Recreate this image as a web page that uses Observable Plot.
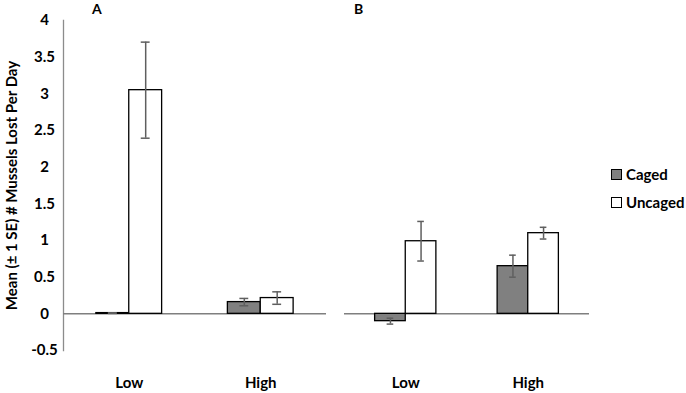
<!DOCTYPE html>
<html><head><meta charset="utf-8">
<script src="https://cdn.jsdelivr.net/npm/d3@7"></script>
<script src="https://cdn.jsdelivr.net/npm/@observablehq/plot@0.6"></script>
<style>
body{margin:0;background:#fff;font-family:Lato,"Open Sans",sans-serif;}
#wrap{position:relative;width:686px;height:393px;}
#wrap svg{position:absolute;top:0;font-family:Lato,"Open Sans",sans-serif;}
.plabel{position:absolute;top:0px;font-weight:bold;font-size:14px;color:#000;}
#legend{position:absolute;left:611px;top:160px;font-size:15px;font-weight:bold;line-height:28px;}
#legend .sw{display:inline-block;width:9px;height:9px;border:1.3px solid #000;margin-right:4px;vertical-align:0px;}
</style></head><body>
<div id="wrap"></div>
<script>
const groups = ["Low", "High"];
const treatments = ["Caged", "Uncaged"];
const yTicks = [-0.5, 0, 0.5, 1, 1.5, 2, 2.5, 3, 3.5, 4];
// order: Low-Caged, Low-Uncaged, High-Caged, High-Uncaged
const aMean = [0.01, 3.05, 0.16, 0.215];
const aSE   = [0.004, 0.655, 0.05, 0.085];
const bMean = [-0.10, 0.99, 0.65, 1.10];
const bSE   = [0.04, 0.27, 0.15, 0.08];
const fills = {Caged: "#808080", Uncaged: "#ffffff"};

// each group occupies 4 slots: gap, Caged, Uncaged, gap
function rows(means, ses) {
  return means.map((m, i) => {
    const gi = Math.floor(i / 2), ti = i % 2;
    const slot = gi * 4 + 1 + ti;
    return {group: groups[gi], treatment: treatments[ti],
      x1: slot, x2: slot + 1, xc: slot + 0.5,
      mean: m, lo: m - ses[i], hi: m + ses[i]};
  });
}
const groupTicks = groups.map((g, gi) => gi * 4 + 2);

function panel(data, {width, marginLeft, marginRight, showY}) {
  const marks = [
    Plot.ruleY([0], {stroke: "#7f7f7f", strokeWidth: 1.5}),
    Plot.rectY(data, {x1: "x1", x2: "x2", y: "mean",
      fill: d => fills[d.treatment], stroke: "#000", strokeWidth: 1.3}),
    Plot.ruleX(data, {x: "xc", y1: "lo", y2: "hi", stroke: "#5f5f5f", strokeWidth: 1.5}),
    Plot.ruleY(data, {x1: "x1", x2: "x2", y: "lo", stroke: "#5f5f5f", strokeWidth: 1.5, insetLeft: 12, insetRight: 12}),
    Plot.ruleY(data, {x1: "x1", x2: "x2", y: "hi", stroke: "#5f5f5f", strokeWidth: 1.5, insetLeft: 12, insetRight: 12}),
    Plot.axisX({ticks: groupTicks, tickFormat: d => groups[(d - 2) / 4], tickSize: 0, tickPadding: 27,
      fontSize: 15, fontWeight: "bold", label: null})
  ];
  if (showY) {
    marks.unshift(Plot.frame({anchor: "left", stroke: "#8c8c8c", strokeWidth: 1.3}));
    marks.push(Plot.axisY({ticks: yTicks, tickSize: 0, tickPadding: 19, textAnchor: "middle",
      tickFormat: d => String(d), fontSize: 15, fontWeight: "bold",
      label: "Mean (± 1 SE) # Mussels Lost Per Day", labelArrow: "none", labelAnchor: "center", labelOffset: 57}));
  }
  return Plot.plot({
    width, height: 393,
    marginTop: 20, marginBottom: 43, marginLeft, marginRight,
    style: {fontFamily: "Lato, 'Open Sans', sans-serif", color: "#000", background: "transparent"},
    x: {domain: [0, 8]},
    y: {domain: [-0.5, 4], axis: showY ? undefined : null},
    marks
  });
}

const wrap = document.getElementById("wrap");
const pA = panel(rows(aMean, aSE), {width: 326, marginLeft: 63, marginRight: 0, showY: true});
pA.style.left = "0px";
const pB = panel(rows(bMean, bSE), {width: 360, marginLeft: 18, marginRight: 97, showY: false});
pB.style.left = "326px";
wrap.appendChild(pA);
wrap.appendChild(pB);

const la = document.createElement("div"); la.className = "plabel"; la.style.left = "92px"; la.textContent = "A"; wrap.appendChild(la);
const lb = document.createElement("div"); lb.className = "plabel"; lb.style.left = "354px"; lb.textContent = "B"; wrap.appendChild(lb);

const leg = document.createElement("div"); leg.id = "legend";
leg.innerHTML = treatments.map(t => `<div><span class="sw" style="background:${fills[t]}"></span>${t}</div>`).join("");
wrap.appendChild(leg);
</script>
</body></html>
